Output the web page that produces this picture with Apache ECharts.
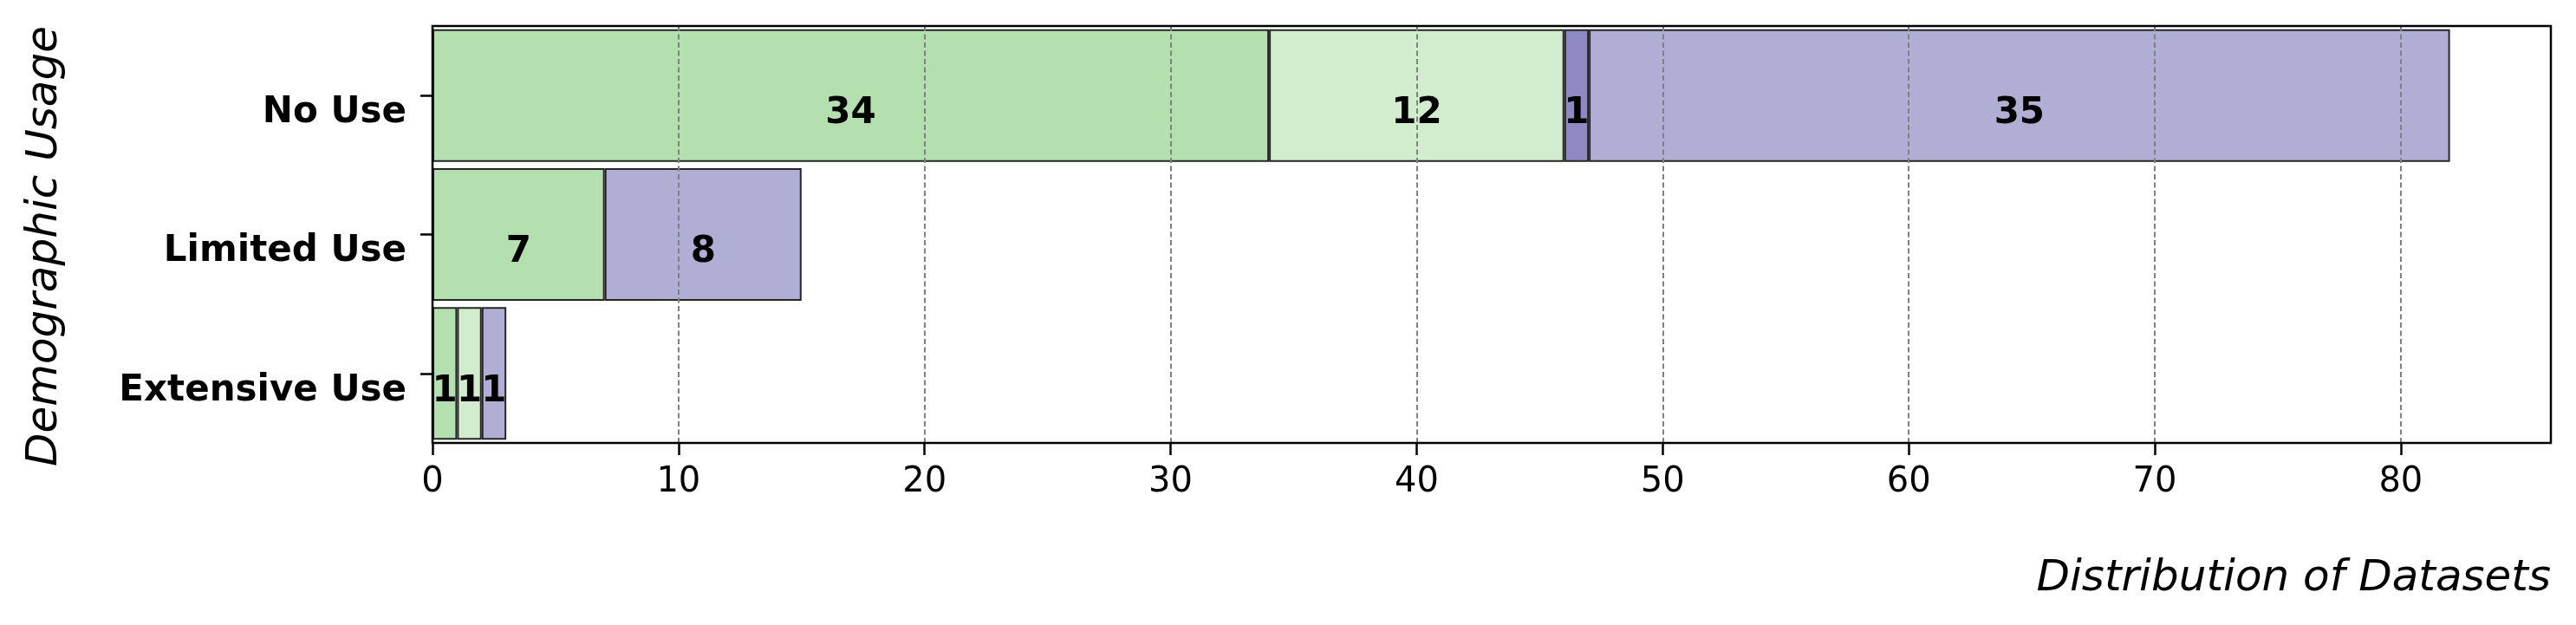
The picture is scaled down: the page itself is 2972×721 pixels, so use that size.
<!DOCTYPE html>
<html>
<head>
<meta charset="utf-8">
<script src="https://cdn.jsdelivr.net/npm/echarts@6/dist/echarts.min.js"></script>
<style>
html,body{margin:0;padding:0;background:#fff;}
#chart{width:2972px;height:721px;}
</style>
</head>
<body>
<div id="chart"></div>
<script>
// ---- data ----
var categories = ['No Use', 'Limited Use', 'Extensive Use'];
var seriesNames = ['Green', 'Light Green', 'Purple', 'Light Purple'];
var greenValues = [34, 7, 1];
var lightGreenValues = [12, 0, 1];
var purpleValues = [1, 0, 0];
var lightPurpleValues = [35, 8, 1];
var xTicks = [0, 10, 20, 30, 40, 50, 60, 70, 80];
var xTitle = 'Distribution of Datasets';
var yTitle = 'Demographic Usage';

var colors = ['#b4e0b0', '#d2ecce', '#8f89c1', '#b0aed4'];
var allValues = [greenValues, lightGreenValues, purpleValues, lightPurpleValues];

var FONT = '"DejaVu Sans", sans-serif';

var series = allValues.map(function (vals, i) {
  return {
    name: seriesNames[i],
    type: 'bar',
    stack: 'total',
    barCategoryGap: '4.6%',
    data: vals.map(function (v) { return v === 0 ? '-' : v; }),
    itemStyle: { color: colors[i], borderColor: '#262626', borderWidth: 2 },
    label: {
      show: true,
      position: 'inside',
      offset: [0, 21],
      fontFamily: FONT,
      fontWeight: 'bold',
      fontSize: 42,
      color: '#000'
    },
    z: 2
  };
});

var chart = echarts.init(document.getElementById('chart'), null, { renderer: 'canvas' });
chart.setOption({
  animation: false,
  backgroundColor: '#fff',
  grid: {
    left: 499, right: 29, top: 30, bottom: 210, z: 11,
    show: true, borderColor: '#000', borderWidth: 2.5, backgroundColor: 'transparent'
  },
  xAxis: {
    type: 'value',
    min: 0,
    max: 86.1,
    interval: 10,
    z: 10,
    axisLine: { show: false },
    axisTick: {
      show: true, inside: false, length: 14,
      lineStyle: { color: '#000', width: 2.5 },
      customValues: xTicks
    },
    axisLabel: {
      fontFamily: FONT, fontSize: 40, color: '#000', margin: 26,
      customValues: xTicks
    },
    splitLine: {
      show: true,
      lineStyle: { color: '#808080', width: 2, type: [6, 3.5] }
    }
  },
  yAxis: {
    type: 'category',
    data: categories,
    inverse: true,
    axisLine: { show: false },
    axisTick: {
      show: true, alignWithLabel: true, length: 14,
      lineStyle: { color: '#000', width: 2.5 }
    },
    axisLabel: {
      fontFamily: FONT, fontSize: 42, fontWeight: 'bold', color: '#000',
      margin: 30, verticalAlign: 'top', lineHeight: 40
    },
    splitLine: { show: false }
  },
  graphic: [
    {
      type: 'text',
      x: 2943, y: 668,
      style: {
        text: xTitle, fontFamily: FONT, fontStyle: 'italic', fontSize: 50,
        fill: '#000', textAlign: 'right', textVerticalAlign: 'middle'
      }
    },
    {
      type: 'text',
      x: 52, y: 284,
      rotation: Math.PI / 2,
      style: {
        text: yTitle, fontFamily: FONT, fontStyle: 'italic', fontSize: 50,
        fill: '#000', textAlign: 'center', textVerticalAlign: 'middle'
      }
    }
  ],
  series: series
});
</script>
</body>
</html>
